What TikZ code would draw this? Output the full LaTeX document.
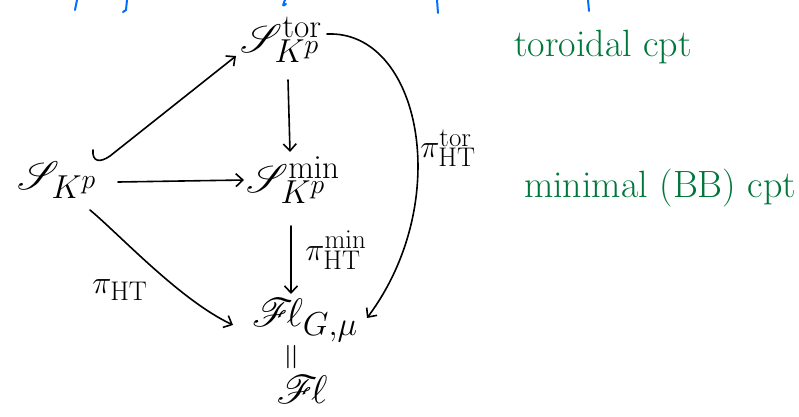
\documentclass[tikz,border=0pt]{standalone}
\usepackage{mathrsfs}
\usetikzlibrary{arrows.meta}
\definecolor{inkgreen}{RGB}{0,118,58}
\definecolor{inkblue}{RGB}{0,110,255}
\newcommand{\bigobj}[1]{\scalebox{1.6}{#1}}
\newcommand{\biglab}[1]{\scalebox{1.3}{#1}}
\tikzset{
  ink/.style={line width=1.6pt, line cap=round, line join=round},
  arr/.style={ink, -{Straight Barb[length=7pt,width=13pt,line width=1.6pt]}},
  obj/.style={inner sep=0pt, font=\Huge},
  lab/.style={inner sep=0pt, font=\Huge},
  note/.style={inner sep=0pt, text=inkgreen, font=\fontsize{38}{42}\selectfont},
  scrap/.style={line width=2pt, line cap=round, draw=inkblue}
}
\begin{document}
\begin{tikzpicture}[x=1pt,y=-1pt]
\useasboundingbox (0,0) rectangle (799,416);

% objects
\node[obj] (L) at (57,180) {\bigobj{$\mathscr{S}_{K^p}$}};
\node[obj] (T) at (281,40) {\bigobj{$\mathscr{S}^{\mathrm{tor}}_{K^p}$}};
\node[obj] (M) at (293,180) {\bigobj{$\mathscr{S}^{\mathrm{min}}_{K^p}$}};
\node[obj] (F) at (305,320) {\bigobj{$\mathscr{F}\!\ell_{G,\mu}$}};
\node[obj] (E) at (294,357) {\scalebox{1.5}{\rotatebox{90}{$=$}}};
\node[obj] (G) at (302,390) {\bigobj{$\mathscr{F}\!\ell$}};

% map labels
\node[lab] (pT) at (448,148) {\biglab{$\pi^{\mathrm{tor}}_{\mathrm{HT}}$}};
\node[lab] (pM) at (336,250) {\biglab{$\pi^{\mathrm{min}}_{\mathrm{HT}}$}};
\node[lab] (pL) at (120,290) {\biglab{$\pi_{\mathrm{HT}}$}};

% notes
\node[note] (n1) at (603,47) {toroidal cpt};
\node[note] (n2) at (660,188) {minimal (BB) cpt};

% maps
\draw[arr] ([shift={(36,-30)}]L.center) .. controls ([shift={(35,-18)}]L.center) and ([shift={(43,-17)}]L.center) .. ([shift={(53,-24)}]L.center) -- ([shift={(-45,16)}]T.center);
\draw[arr] ([shift={(61,2)}]L.center) -- ([shift={(-49,0)}]M.center);
\draw[arr] ([shift={(33,30)}]L.center) .. controls ([shift={(63,55)}]L.center) and ([shift={(-125,-20)}]F.center) .. ([shift={(-72,5)}]F.center);
\draw[arr] ([shift={(7,40)}]T.center) -- ([shift={(-3,-28)}]M.center);
\draw[arr] ([shift={(-2,46)}]M.center) -- ([shift={(-14,-26)}]F.center);
\draw[arr] ([shift={(46,-6)}]T.center) .. controls ([shift={(139,-10)}]T.center) and ([shift={(150,-120)}]F.center) .. ([shift={(62,-2)}]F.center);

% scraps of writing cut off at the top edge
\draw[scrap] (77,0) -- (75,10);
\draw[scrap] (127,0) -- (126,10) -- (123,12);
\draw[scrap] (285,0) .. controls (283,5) and (282,7) .. (286,4);
\draw[scrap] (437,0) -- (438,13);
\draw[scrap] (588,0) -- (589,11);
\end{tikzpicture}
\end{document}
